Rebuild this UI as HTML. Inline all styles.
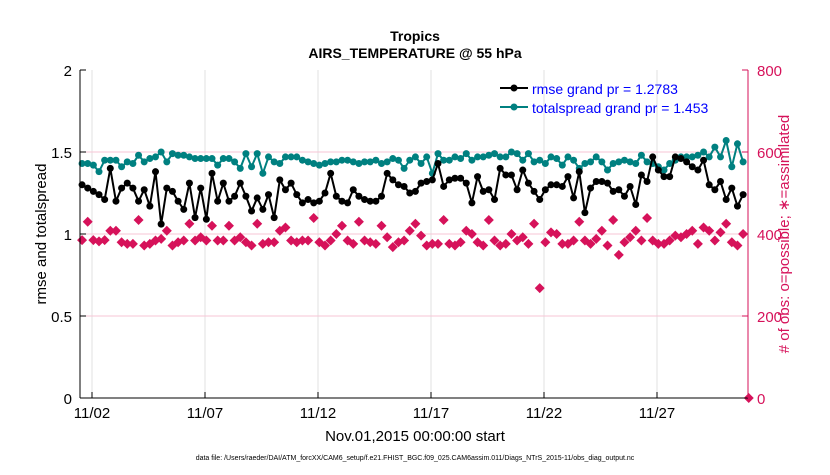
<!DOCTYPE html>
<html><head><meta charset="utf-8"><style>
body{margin:0;background:#fff;font-family:"Liberation Sans",sans-serif;}
svg text{font-family:"Liberation Sans",sans-serif;}
</style></head><body>
<svg id="chart" width="830" height="470" xmlns="http://www.w3.org/2000/svg">
<rect width="830" height="470" fill="#fff"/>
<g id="grid"></g>
<g id="marks"></g>
<g id="axes"></g>
<text x="415" y="41" font-size="14" font-weight="bold" text-anchor="middle">Tropics</text>
<text x="415" y="58" font-size="14" font-weight="bold" text-anchor="middle">AIRS_TEMPERATURE @ 55 hPa</text>
<text x="415" y="441" font-size="15" text-anchor="middle">Nov.01,2015 00:00:00 start</text>
<text transform="translate(46,234) rotate(-90)" font-size="15" text-anchor="middle">rmse and totalspread</text>
<text transform="translate(789,234) rotate(-90)" font-size="15" fill="#d6125a" text-anchor="middle"># of obs: o=possible; ∗=assimilated</text>
<text x="415" y="460" font-size="7" text-anchor="middle">data file: /Users/raeder/DAI/ATM_forcXX/CAM6_setup/f.e21.FHIST_BGC.f09_025.CAM6assim.011/Diags_NTrS_2015-11/obs_diag_output.nc</text>
<g>
<line x1="500" y1="88" x2="528" y2="88" stroke="#000" stroke-width="2"/>
<circle cx="514" cy="88" r="3.5" fill="#000"/>
<text x="532" y="94" font-size="14" fill="#0000ff">rmse grand pr = 1.2783</text>
<line x1="500" y1="107" x2="528" y2="107" stroke="#008080" stroke-width="2"/>
<circle cx="514" cy="107" r="3.5" fill="#008080"/>
<text x="532" y="113" font-size="14" fill="#0000ff">totalspread grand pr = 1.453</text>
</g>
</svg>
<script>
const tickDays=[1,6,11,16,21,26];
const tickLabels=["11/02","11/07","11/12","11/17","11/22","11/27"];
const leftTicks=[0,0.5,1,1.5,2];
const leftTickLabels=["0","0.5","1","1.5","2"];
const rightTicks=[0,200,400,600,800];
const spread=[1.43,1.43,1.42,1.38,1.45,1.45,1.45,1.41,1.44,1.43,1.48,1.44,1.46,1.47,1.50,1.44,1.49,1.48,1.48,1.47,1.46,1.46,1.46,1.46,1.42,1.46,1.46,1.44,1.40,1.49,1.41,1.49,1.37,1.47,1.44,1.43,1.47,1.47,1.47,1.45,
1.44,1.43,1.42,1.43,1.44,1.44,1.45,1.45,1.44,1.43,1.44,1.44,1.45,1.43,1.44,1.46,1.45,1.40,1.45,1.47,1.43,1.47,1.37,1.49,1.45,1.45,1.47,1.46,1.49,1.45,1.47,1.47,1.48,1.49,1.47,1.47,1.50,
1.49,1.45,1.49,1.44,1.45,1.43,1.47,1.46,1.42,1.47,1.45,1.40,1.43,1.44,1.47,1.44,1.39,1.43,1.44,1.45,1.44,1.43,1.48,1.44,1.43,1.41,1.39,1.43,1.45,1.47,1.47,1.47,1.48,1.50,1.47,1.53,1.47,1.57,1.41,1.55,1.44];
const rmse=[1.30,1.28,1.26,1.24,1.21,1.40,1.20,1.28,1.31,1.28,1.20,1.27,1.17,1.38,1.06,1.28,1.26,1.20,1.15,1.31,1.10,1.28,1.09,1.37,1.20,1.31,1.20,1.23,1.31,1.23,1.14,1.22,1.15,1.24,1.10,1.33,1.27,1.31,1.24,1.19,
1.21,1.19,1.20,1.25,1.37,1.23,1.20,1.19,1.27,1.23,1.21,1.20,1.20,1.23,1.37,1.33,1.30,1.29,1.25,1.26,1.31,1.32,1.33,1.43,1.29,1.33,1.34,1.34,1.31,1.19,1.35,1.26,1.27,1.21,1.40,1.36,1.36,
1.27,1.39,1.31,1.26,1.21,1.27,1.30,1.30,1.29,1.35,1.22,1.38,1.13,1.28,1.32,1.32,1.31,1.26,1.27,1.23,1.29,1.18,1.36,1.32,1.47,1.39,1.35,1.35,1.47,1.46,1.44,1.41,1.39,1.45,1.30,1.27,1.32,1.21,1.28,1.17,1.24];
const obsCount=[385,430,385,382,385,408,408,380,376,376,434,372,376,384,388,408,372,380,384,425,384,392,384,420,384,384,420,384,392,380,372,425,376,380,380,408,416,384,380,384,
384,439,380,372,384,400,420,384,376,430,384,380,376,420,392,368,380,384,408,425,396,372,376,376,434,376,372,380,408,400,380,372,434,384,372,376,400,
384,392,376,425,268,380,404,400,376,376,384,430,384,376,388,408,372,434,349,380,392,408,384,439,384,376,376,384,396,392,400,408,376,416,408,384,404,425,380,372,400,0];
const startDay=0.56, stepDay=0.25;
const X0=80,X1=748,Y0=398,Y1=70;
const xS=d=>69.4+d*22.6;
const yL=v=>Y0-(v/2)*(Y0-Y1);
const yR=v=>Y0-(v/800)*(Y0-Y1);
const NS="http://www.w3.org/2000/svg";
function mk(tag,attrs,parent){const e=document.createElementNS(NS,tag);for(const k in attrs)e.setAttribute(k,attrs[k]);parent.appendChild(e);return e;}
const grid=document.getElementById('grid'),marks=document.getElementById('marks'),axes=document.getElementById('axes');
tickDays.forEach((d,i)=>{
 const g=mk('line',{x1:xS(d),x2:xS(d),y1:Y1,y2:Y0,stroke:'#e0e0e0','stroke-width':1},grid);
 
 
 const t=mk('text',{x:xS(d),y:Y0+20,'font-size':15,'text-anchor':'middle'},axes);
 t.textContent=tickLabels[i];
 
 
 mk('line',{x1:xS(d),x2:xS(d),y1:Y0,y2:Y0-6,stroke:'#000'},axes);
});
rightTicks.forEach(v=>{
 if(v>0&&v<800){const g=mk('line',{x1:X0,x2:X1,y1:yR(v),y2:yR(v),stroke:'#f7c6d6','stroke-width':1},grid);
 
 }
 const t=mk('text',{x:X1+9,y:yR(v)+6,'font-size':15,fill:'#d6125a'},axes);
 t.textContent=String(v);
 
 
 mk('line',{x1:X1,x2:X1-6,y1:yR(v),y2:yR(v),stroke:'#d6125a'},axes);
});
leftTicks.forEach((v,i)=>{
 const t=mk('text',{x:X0-8,y:yL(v)+6,'font-size':15,'text-anchor':'end'},axes);
 t.textContent=leftTickLabels[i];
 
 
 mk('line',{x1:X0,x2:X0+6,y1:yL(v),y2:yL(v),stroke:'#000'},axes);
});
mk('line',{x1:X0,x2:X0,y1:Y1,y2:Y0,stroke:'#000'},axes);
mk('line',{x1:X0,x2:X1,y1:Y0,y2:Y0,stroke:'#000'},axes);
mk('line',{x1:X1,x2:X1,y1:Y1,y2:Y0,stroke:'#d6125a'},axes);
obsCount.forEach((v,i)=>{
 const x=xS(startDay+i*stepDay),y=yR(v),s=5;
 const p=mk('path',{d:`M${x} ${y-s}L${x+s} ${y}L${x} ${y+s}L${x-s} ${y}Z`,fill:'#d6125a'},marks);
 
 
});
function series(vals,color,name){
 const pts=vals.map((v,i)=>[xS(startDay+i*stepDay),yL(v)]);
 const l=mk('polyline',{points:pts.map(p=>p.join(',')).join(' '),fill:'none',stroke:color,'stroke-width':2},marks);
 
 
 pts.forEach(p=>{const c=mk('circle',{cx:p[0],cy:p[1],r:3.5,fill:color},marks);
  
  });
}
series(spread,'#008080','totalspread');
series(rmse,'#000000','rmse');
</script>
</body></html>
